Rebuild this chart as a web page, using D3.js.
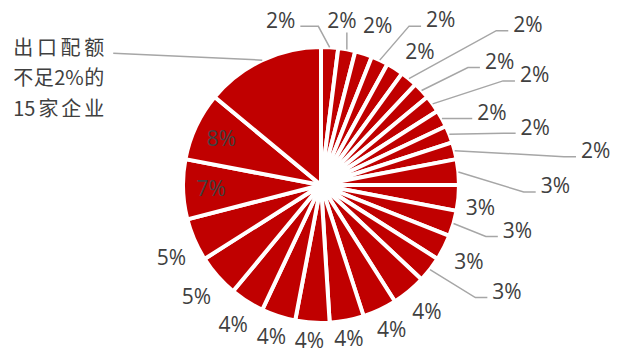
<!DOCTYPE html>
<html>
<head>
<meta charset="utf-8">
<script src="https://cdn.jsdelivr.net/npm/d3@7"></script>
<style>
  html, body { margin: 0; padding: 0; background: #fff; }
  svg { display: block; }
</style>
</head>
<body>
<svg id="chart" width="617" height="354"></svg>
<script>
// Export quota share per company (percent), clockwise from 12 o'clock.
// The last slice groups the 15 companies that each hold less than 2%.
const shares = [2, 2, 2, 2, 2, 2, 2, 2, 2, 2, 2,
                3, 3, 3, 3, 3,
                4, 4, 4, 4, 4, 4,
                5, 5, 7, 8, 14];
const groupLabelLines = ["出口配额", "不足2%的", "15家企业"];

// Slices whose value label sits inside the slice
const insideLabelSlices = [24, 25];
// Outside labels: offset of the label centre from the slice's rim point (px)
const labelOffsets = [
  [-49, -27], [-5, -29], [14, -28], [61, -40], [25, -17], [119, -54],
  [78, -29], [102, -29], [50, -6], [86, -7], [141, 0],
  [97, 14], [22, 10], [64, 7], [25, 14], [77, 22],
  [18, 20], [12, 20], [2, 18.5], [-3, 17.5], [-7, 20], [-14, 23],
  [-21, 20], [-23, 18]
];
// Slices whose label is connected with a leader line
const leaderSlices = [0, 1, 3, 5, 6, 7, 8, 9, 10, 11, 13, 15];
// Group label block: offset of its left edge / first line from the rim point
const groupLabelOffset = [-249, -12.5];

const RED = "#C00000", TEXT = "#404040", LEADER = "#A6A6A6";
const cx = 321, cy = 185, R = 138;

const svg = d3.select("#chart");
const g = svg.append("g").attr("transform", `translate(${cx},${cy})`);

const pie = d3.pie().sort(null).value(d => d);
const arcs = pie(shares);
const arc = d3.arc().innerRadius(0).outerRadius(R);
const insideArc = d3.arc().innerRadius(110).outerRadius(110);

g.selectAll("path.slice")
  .data(arcs)
  .join("path")
  .attr("class", "slice")
  .attr("d", arc)
  .attr("fill", RED)
  .attr("stroke", "#fff")
  .attr("stroke-width", 4)
  .attr("stroke-linejoin", "round");

const rim = d => {
  const a = (d.startAngle + d.endAngle) / 2;
  return [R * Math.sin(a), -R * Math.cos(a)];
};

const leaders = g.append("g").attr("class", "leaders");
const labels = g.append("g").attr("class", "labels");

arcs.forEach((d, i) => {
  if (i === arcs.length - 1) return;
  const text = d.data + "%";
  if (insideLabelSlices.includes(i)) {
    const [x, y] = insideArc.centroid(d);
    labels.append("text")
      .attr("x", x).attr("y", y).attr("dy", "0.35em")
      .attr("text-anchor", "middle")
      .attr("font-family", "'Open Sans', sans-serif")
      .attr("font-size", 21)
      .attr("fill", TEXT)
      .text(text);
    return;
  }
  const [ax, ay] = rim(d);
  const [ox, oy] = labelOffsets[i];
  const lx = ax + ox, ly = ay + oy;
  const t = labels.append("text")
    .attr("x", lx).attr("y", ly).attr("dy", "0.35em")
    .attr("text-anchor", "middle")
    .attr("font-family", "'Open Sans', sans-serif")
    .attr("font-size", 21)
    .attr("fill", TEXT)
    .text(text);
  if (leaderSlices.includes(i)) {
    const halfW = t.node().getComputedTextLength() / 2;
    let path;
    if (Math.abs(ax - lx) < halfW) {
      path = `M${ax},${ly + 12}L${ax},${ay}`;
    } else {
      const side = ax > lx ? 1 : -1;
      const sx = lx + side * (halfW + 5);
      const y0 = ly + 6;
      const elbow = side > 0 ? 18 : 12;
      path = `M${sx},${y0}H${sx + side * elbow}L${ax},${ay}`;
    }
    leaders.append("path")
      .attr("d", path)
      .attr("fill", "none")
      .attr("stroke", LEADER)
      .attr("stroke-width", 1.5);
  }
});

// Label of the grouped slice: three lines distributed to the same width,
// extra space goes between CJK characters, Latin runs stay together.
const big = arcs[arcs.length - 1];
const [bx, by] = rim(big);
const blockX = bx + groupLabelOffset[0], blockY = by + groupLabelOffset[1];
const blockW = 91, lineGap = 30.5;
groupLabelLines.forEach((line, k) => {
  const units = line.match(/[\x00-\x7F]+|./gu);
  const t = labels.append("text")
    .attr("y", blockY + k * lineGap).attr("dy", "0.36em")
    .attr("font-family", "'Noto Sans CJK SC', sans-serif")
    .attr("font-size", 20)
    .attr("fill", TEXT);
  const spans = units.map(u => t.append("tspan").attr("x", 0).text(u));
  const widths = spans.map(s => s.node().getComputedTextLength());
  const total = widths.reduce((a, b) => a + b, 0);
  const gap = units.length > 1 ? (blockW - total) / (units.length - 1) : 0;
  let x = blockX;
  spans.forEach((s, j) => {
    s.attr("x", x);
    x += widths[j] + gap;
  });
});
leaders.append("path")
  .attr("d", `M${blockX + blockW + 9},${blockY + 5.5}L${bx},${by}`)
  .attr("fill", "none")
  .attr("stroke", LEADER)
  .attr("stroke-width", 1.5);
</script>
</body>
</html>
